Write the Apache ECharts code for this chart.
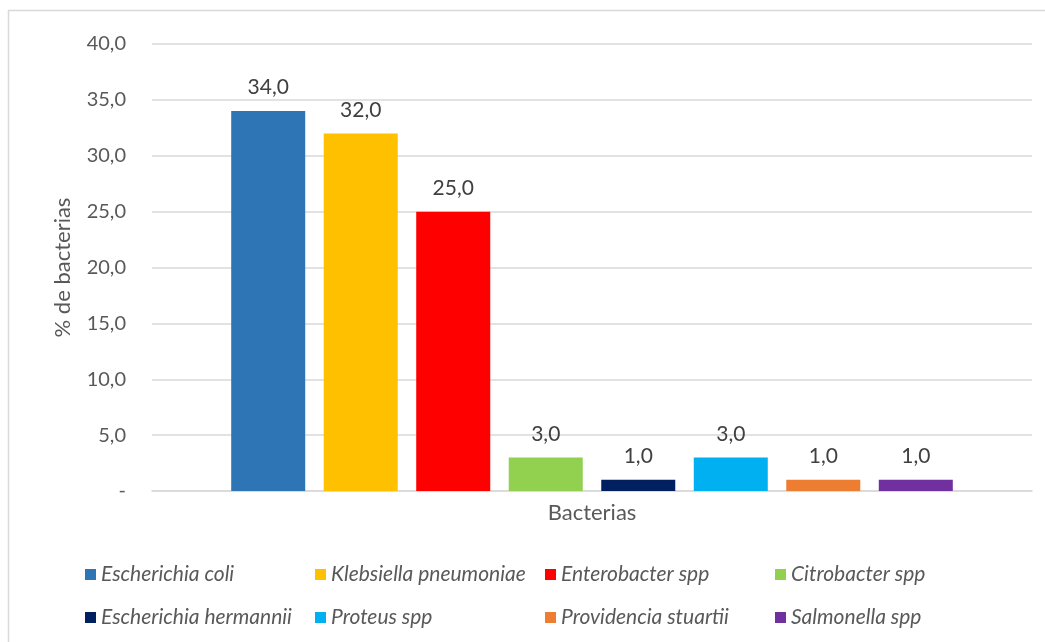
<!DOCTYPE html>
<html><head><meta charset="utf-8">
<script src="https://cdn.jsdelivr.net/npm/echarts@6/dist/echarts.min.js"></script>
<style>html,body{margin:0;padding:0;background:#fff}#c{width:1045px;height:642px}</style>
</head><body><div id="c"></div>
<script>
const categories = ['Bacterias'];
const seriesNames = ['Escherichia coli','Klebsiella pneumoniae','Enterobacter spp','Citrobacter spp','Escherichia hermannii','Proteus spp','Providencia stuartii','Salmonella spp'];
const seriesValues = [34.0, 32.0, 25.0, 3.0, 1.0, 3.0, 1.0, 1.0];
const seriesColors = ['#2E75B6','#FFC000','#FF0000','#92D050','#002060','#00B0F0','#ED7D31','#7030A0'];
const yTicks = [0, 5, 10, 15, 20, 25, 30, 35, 40];

const FONT = 'Lato, "Open Sans", sans-serif';
const fmt = v => v === 0 ? '-' : v.toFixed(1).replace('.', ',');

const chart = echarts.init(document.getElementById('c'));
chart.setOption({
  animation: false,
  backgroundColor: '#fff',
  graphic: [{type:'rect', shape:{x:8.5, y:10.5, width:1060, height:660}, style:{fill:'none', stroke:'#d9d9d9', lineWidth:1.5}, silent:true}],
  grid: {left:152, right:13, top:44, bottom:151},
  legend: {
    left: 80, top: 553, width: 940,
    itemWidth: 11, itemHeight: 11, itemGap: 10,
    icon: 'rect',
    textStyle: {fontFamily: FONT, fontStyle:'italic', fontSize:21, color:'#595959', width:204, lineHeight:33},
    data: seriesNames
  },
  xAxis: {
    type:'category', data: categories,
    axisLine:{lineStyle:{color:'#d9d9d9', width:1.5}}, axisTick:{show:false},
    axisLabel:{fontFamily:FONT, fontSize:22, color:'#595959', margin:11}
  },
  yAxis: {
    type:'value', min: yTicks[0], max: yTicks[yTicks.length-1], interval: 5,
    name: '% de bacterias', nameLocation:'middle', nameGap: 78, nameRotate: 90,
    nameTextStyle:{fontFamily:FONT, fontSize:22, color:'#595959'},
    axisLine:{show:false}, axisTick:{show:false},
    axisLabel:{fontFamily:FONT, fontSize:20, color:'#595959', margin:26, formatter: fmt},
    splitLine:{lineStyle:{color:'#d9d9d9', width:1.5}}
  },
  series: seriesNames.map((n,i) => ({
    name: n, type:'bar', data:[seriesValues[i]],
    barCategoryGap:'18%', barGap:'25%',
    itemStyle:{color: seriesColors[i]},
    label:{show:true, position:'top', distance:13, fontFamily:FONT, fontSize:21, color:'#404040', formatter: p => fmt(p.value)}
  }))
});
</script></body></html>
